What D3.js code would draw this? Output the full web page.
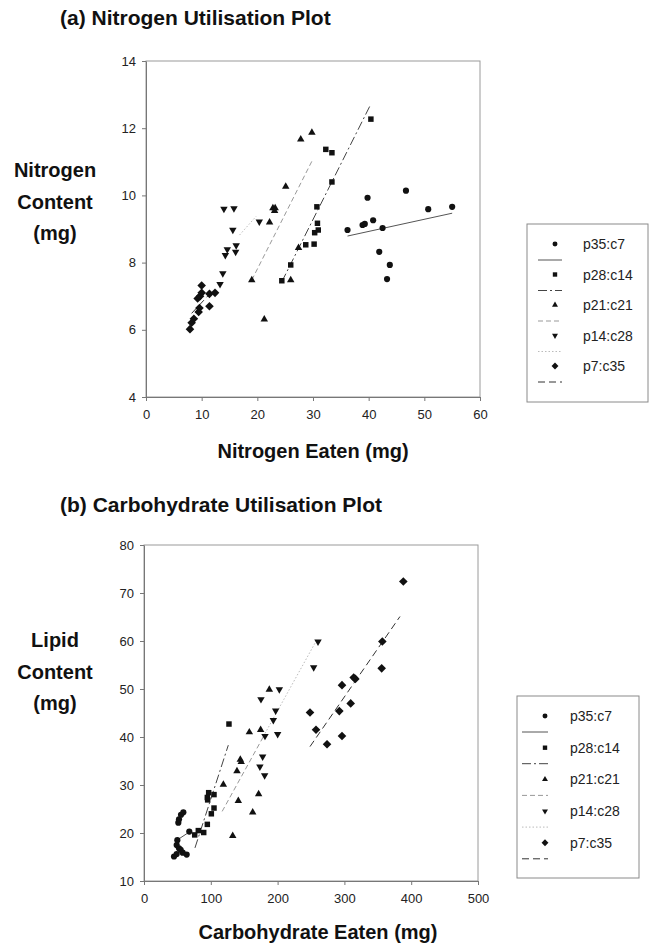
<!DOCTYPE html>
<html>
<head>
<meta charset="utf-8">
<script src="https://cdn.jsdelivr.net/npm/d3@7"></script>
<style>
  body { margin: 0; background: #fff; }
  svg { display: block; font-family: Arial, "Liberation Sans", sans-serif; }
</style>
</head>
<body>
<svg id="chart" width="652" height="946"></svg>
<script>
// ---- series ----
const seriesNames = ["p35:c7", "p28:c14", "p21:c21", "p14:c28", "p7:c35"];

// (a) nitrogen eaten (mg) vs nitrogen content (mg)
const nitrogenP35 = [[36.2,8.97],[38.9,9.12],[39.3,9.15],[39.8,9.93],[40.8,9.26],[42.5,9.03],[41.9,8.32],[43.8,7.93],[43.3,7.51],[46.7,10.14],[50.7,9.59],[55.0,9.66]];
const nitrogenP28 = [[40.4,12.27],[32.3,11.37],[33.4,11.27],[33.4,10.40],[30.7,9.66],[30.8,9.17],[30.95,8.97],[30.3,8.89],[28.7,8.53],[30.2,8.55],[26.0,7.93],[24.4,7.46]];
const nitrogenP21 = [[19.0,7.48],[21.25,6.31],[22.2,9.2],[22.8,9.62],[23.2,9.62],[23.1,9.54],[25.1,10.26],[26.0,7.48],[27.4,8.44],[27.8,11.67],[29.8,11.87]];
const nitrogenP14 = [[14.0,9.6],[15.8,9.61],[15.6,8.97],[16.2,8.51],[14.6,8.39],[16.1,8.32],[14.25,8.22],[13.8,7.68],[13.3,7.36],[20.35,9.22]];
const nitrogenP7  = [[7.9,6.02],[8.2,6.21],[8.6,6.33],[9.46,6.53],[9.6,6.65],[9.28,6.93],[9.7,7.0],[10.0,7.1],[10.0,7.32],[11.4,7.07],[12.4,7.1],[11.4,6.7]];

// (a) fitted trend lines, [start, end]
const nitrogenFitP35 = [[36.2,8.79],[55.0,9.47]];
const nitrogenFitP28 = [[24.4,7.43],[40.4,12.72]];
const nitrogenFitP21 = [[19.0,7.48],[29.9,11.05]];
const nitrogenFitP14 = [[16.8,8.82],[19.8,9.38]];
const nitrogenFitP7  = [[8.2,6.49],[11.8,7.13]];

// (b) carbohydrate eaten (mg) vs lipid content (mg)
const carbP35 = [[44.9,15.1],[48.9,15.6],[52.4,16.8],[54.9,16.5],[57.9,15.9],[63.9,15.5],[48.9,17.5],[49.9,18.5],[51.4,22.15],[52.4,22.85],[55.4,23.8],[58.9,24.3],[67.8,20.3]];
const carbP28 = [[127.2,42.7],[96.8,28.4],[104.8,28.0],[95.3,26.9],[94.8,27.4],[104.8,25.2],[100.8,24.0],[94.8,21.8],[81.3,20.5],[89.4,20.1],[75.9,19.6]];
const carbP21 = [[118.8,30.1],[132.8,19.4],[139.2,32.9],[141.2,26.7],[144.2,35.3],[145.5,34.8],[157.7,41.0],[162.7,24.3],[171.6,28.1],[174.6,41.5],[187.6,49.9]];
const carbP14 = [[260.5,59.85],[254.0,54.5],[175.1,47.85],[202.6,49.9],[197.1,45.5],[193.6,43.5],[181.1,40.2],[200.1,40.6],[177.6,35.9],[173.5,33.8],[180.6,32.0]];
const carbP7  = [[248.5,45.1],[257.5,41.5],[274.0,38.5],[296.4,40.2],[292.4,45.4],[296.4,50.8],[309.4,47.0],[313.9,52.4],[316.4,52.1],[355.8,54.3],[356.8,59.9],[388.2,72.4]];

// (b) fitted trend lines
const carbFitP35 = [[47.0,18.3],[70.0,20.4]];
const carbFitP28 = [[76.3,16.9],[126.2,38.3]];
const carbFitP21 = [[117.0,24.5],[180.0,40.4]];
const carbFitP14 = [[178.6,40.1],[258.5,60.2]];
const carbFitP7  = [[248.5,38.0],[383.2,65.1]];

// axis ticks
const nitrogenXTicks = [0, 10, 20, 30, 40, 50, 60];
const nitrogenYTicks = [4, 6, 8, 10, 12, 14];
const carbXTicks = [0, 100, 200, 300, 400, 500];
const carbYTicks = [10, 20, 30, 40, 50, 60, 70, 80];

// ---- styles ----
const markerKinds = ["circle", "square", "triangle", "triangleDown", "diamond"];
const fitStyles = [
  { stroke: "#555", dash: null },
  { stroke: "#444", dash: "9,3,2,3" },
  { stroke: "#999", dash: "5,3" },
  { stroke: "#bbb", dash: "1.5,2" },
  { stroke: "#333", dash: "7,4" }
];

function markerPath(kind) {
  switch (kind) {
    case "circle": return d3.symbol(d3.symbolCircle, 30)();
    case "square": return d3.symbol(d3.symbolSquare, 30)();
    case "triangle": return d3.symbol(d3.symbolTriangle, 24)();
    case "triangleDown": return d3.symbol(d3.symbolTriangle, 24)();
    case "diamond": return "M0,-4.3L4.3,0L0,4.3L-4.3,0Z";
  }
}

const svg = d3.select("#chart");

function drawPanel(cfg) {
  const x = d3.scaleLinear().domain(cfg.xDomain).range(cfg.xRange);
  const y = d3.scaleLinear().domain(cfg.yDomain).range(cfg.yRange);
  const g = svg.append("g");

  // chart title
  g.append("text").attr("x", cfg.titleX).attr("y", cfg.titleY)
    .attr("font-size", 21).attr("font-weight", "bold").attr("fill", "#111")
    .text(cfg.title);

  // plot-area frame
  g.append("rect")
    .attr("x", cfg.xRange[0]).attr("y", cfg.yRange[1])
    .attr("width", cfg.xRange[1] - cfg.xRange[0])
    .attr("height", cfg.yRange[0] - cfg.yRange[1])
    .attr("fill", "none").attr("stroke", "#9a9a9a").attr("stroke-width", 1);

  // axes
  const xAxis = g.append("g").attr("transform", `translate(0,${cfg.yRange[0]})`)
    .call(d3.axisBottom(x).tickValues(cfg.xTicks).tickSize(4).tickPadding(9).tickSizeOuter(0));
  const yAxis = g.append("g").attr("transform", `translate(${cfg.xRange[0]},0)`)
    .call(d3.axisLeft(y).tickValues(cfg.yTicks).tickSize(4).tickPadding(6).tickSizeOuter(0));
  [xAxis, yAxis].forEach(a => {
    a.select(".domain").attr("stroke", "#777");
    a.selectAll(".tick line").attr("stroke", "#777");
    a.selectAll(".tick text").attr("font-size", 13).attr("fill", "#222")
      .attr("font-family", "Arial, 'Liberation Sans', sans-serif");
  });

  // axis titles
  g.append("text").attr("x", cfg.xTitleX).attr("y", cfg.xTitleY)
    .attr("text-anchor", "middle").attr("font-size", 20).attr("font-weight", "bold").attr("fill", "#111")
    .text(cfg.xTitle);
  cfg.yTitle.forEach((line, i) => {
    g.append("text").attr("x", cfg.yTitleX).attr("y", cfg.yTitleY + i * 31.5)
      .attr("text-anchor", "middle").attr("font-size", 20).attr("font-weight", "bold").attr("fill", "#111")
      .text(line);
  });

  // trend lines
  cfg.fits.forEach((fit, i) => {
    const st = fitStyles[i];
    g.append("line")
      .attr("x1", x(fit[0][0])).attr("y1", y(fit[0][1]))
      .attr("x2", x(fit[1][0])).attr("y2", y(fit[1][1]))
      .attr("stroke", st.stroke).attr("stroke-width", 1)
      .attr("stroke-dasharray", st.dash);
  });

  // points
  cfg.series.forEach((pts, i) => {
    const kind = markerKinds[i];
    g.append("g").selectAll("path").data(pts).join("path")
      .attr("d", markerPath(kind))
      .attr("transform", d => `translate(${x(d[0])},${y(d[1])})` + (kind === "triangleDown" ? " rotate(180)" : ""))
      .attr("fill", "#111");
  });

  // legend
  const L = cfg.legend;
  g.append("rect").attr("x", L.x).attr("y", L.y).attr("width", L.w).attr("height", L.h)
    .attr("fill", "none").attr("stroke", "#8a8a8a").attr("stroke-width", 1);
  seriesNames.forEach((name, i) => {
    const cy = L.firstY + i * L.step;
    const kind = markerKinds[i];
    g.append("path").attr("d", markerPath(kind))
      .attr("transform", `translate(${L.markerX},${cy})` + (kind === "triangleDown" ? " rotate(180)" : "") + " scale(0.8)")
      .attr("fill", "#111");
    g.append("text").attr("x", L.labelX).attr("y", cy + 5)
      .attr("font-size", 14).attr("fill", "#222").text(name);
    const st = fitStyles[i];
    g.append("line").attr("x1", L.lineX1).attr("x2", L.lineX2)
      .attr("y1", cy + 16).attr("y2", cy + 16)
      .attr("stroke", st.stroke).attr("stroke-width", 1)
      .attr("stroke-dasharray", st.dash);
  });
}

drawPanel({
  title: "(a) Nitrogen Utilisation Plot", titleX: 60, titleY: 25,
  xDomain: [0, 60], xRange: [146, 480],
  yDomain: [4, 14], yRange: [397, 61],
  xTicks: nitrogenXTicks, yTicks: nitrogenYTicks,
  xTitle: "Nitrogen Eaten (mg)", xTitleX: 313, xTitleY: 458,
  yTitle: ["Nitrogen", "Content", "(mg)"], yTitleX: 55, yTitleY: 177,
  series: [nitrogenP35, nitrogenP28, nitrogenP21, nitrogenP14, nitrogenP7],
  fits: [nitrogenFitP35, nitrogenFitP28, nitrogenFitP21, nitrogenFitP14, nitrogenFitP7],
  legend: { x: 527, y: 224, w: 121, h: 178, firstY: 244, step: 30.5,
            markerX: 555, labelX: 583, lineX1: 538, lineX2: 562 }
});

drawPanel({
  title: "(b) Carbohydrate Utilisation Plot", titleX: 60, titleY: 512,
  xDomain: [0, 500], xRange: [144, 478],
  yDomain: [10, 80], yRange: [881, 545],
  xTicks: carbXTicks, yTicks: carbYTicks,
  xTitle: "Carbohydrate Eaten (mg)", xTitleX: 318, xTitleY: 939,
  yTitle: ["Lipid", "Content", "(mg)"], yTitleX: 55, yTitleY: 647,
  series: [carbP35, carbP28, carbP21, carbP14, carbP7],
  fits: [carbFitP35, carbFitP28, carbFitP21, carbFitP14, carbFitP7],
  legend: { x: 517, y: 696, w: 122, h: 182, firstY: 716, step: 31.7,
            markerX: 545, labelX: 570, lineX1: 522, lineX2: 548 }
});
</script>
</body>
</html>
